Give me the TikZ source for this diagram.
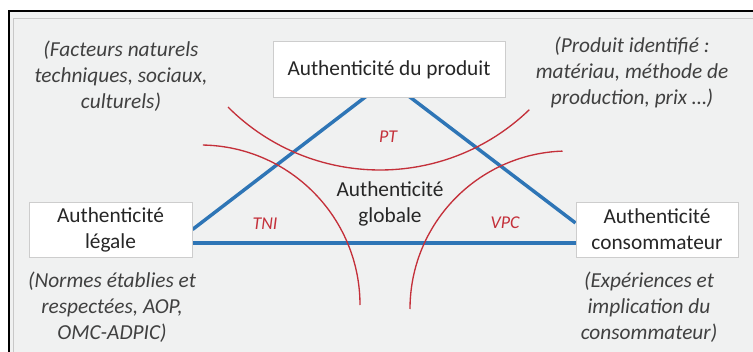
\documentclass[tikz,border=0pt]{standalone}
\usepackage{fontspec}
\setmainfont{Carlito}
\usetikzlibrary{backgrounds}

\definecolor{framegray}{RGB}{200,200,200}
\definecolor{panelgray}{RGB}{240,241,241}
\definecolor{boxgray}{RGB}{205,205,205}
\definecolor{sideblue}{RGB}{46,117,182}
\definecolor{arcred}{RGB}{196,48,58}
\definecolor{txtdark}{RGB}{38,38,38}
\definecolor{notegray}{RGB}{64,64,64}

\begin{document}
\begin{tikzpicture}[x=0.75pt, y=0.75pt]
\useasboundingbox (0,0) rectangle (753,351);
\clip (0,0) rectangle (753,351);

\coordinate (Apex) at (387.5, 271);
\coordinate (C_PT) at (380, 396);
\coordinate (C_TNI) at (200, 46);
\coordinate (C_VPC) at (568, 42);


\tikzset{BoxStyle/.style = {
 draw = boxgray,
 fill = white,
 line width = 0.75pt,
 text = txtdark,
 align = center,
 inner sep = 0pt,
 minimum height = 41.25pt,
 font = \fontsize{16}{19.5}\selectfont} }

\node[BoxStyle, minimum width=174pt] (Prod) at (389, 281.5) {Authenticité du produit};
\node[BoxStyle, minimum width=122.25pt] (Leg) at (110.5, 121.5) {Authenticité\\légale};
\node[BoxStyle, minimum width=121.5pt] (Cons) at (657, 121.5) {Authenticité\\consommateur};

\node[text=txtdark, align=center, font=\fontsize{16}{19.5}\selectfont] (Glob) at (390, 147) {Authenticité\\globale};


\tikzset{NoteStyle/.style = {
 text = notegray,
 align = center,
 font = \fontsize{16}{19.5}\selectfont\itshape} }

\node[NoteStyle] (N_Fact) at (121, 275) {(Facteurs naturels\\techniques, sociaux,\\culturels)};
\node[NoteStyle] (N_Prod) at (632, 279) {(Produit identifié :\\matériau, méthode de\\production, prix …)};
\node[NoteStyle] (N_Norm) at (112, 44) {(Normes établies et\\respectées, AOP,\\OMC-ADPIC)};
\node[NoteStyle] (N_Exp) at (649, 44) {(Expériences et\\implication du\\consommateur)};


\tikzset{LabelStyle/.style = {
 text = arcred,
 font = \fontsize{13.5}{16}\selectfont\itshape} }

\node[LabelStyle] (L_PT) at (388, 214) {PT};
\node[LabelStyle] (L_TNI) at (265, 127) {TNI};
\node[LabelStyle] (L_VPC) at (505, 128) {VPC};


\tikzset{SideStyle/.style = {draw = sideblue, line width = 2.6pt} }
\tikzset{ArcStyle/.style = {draw = arcred, line width = 1pt} }

\begin{pgfonlayer}{background}
\draw[black, line width=1.5pt, fill=panelgray] (9, 340) rectangle (770, -10);
\draw[framegray, line width=0.75pt] (13, 332) rectangle (770, -10);

\draw[SideStyle] (Leg.east) -- (Apex) -- ([yshift=4.9pt]Cons.west);
\draw[SideStyle] ([yshift=-10.1pt]Leg.east) -- ([yshift=-10.1pt]Cons.west);

\draw[ArcStyle] ([shift={(225:161.25pt)}]C_PT) arc[start angle=225, end angle=314, radius=161.25pt];
\draw[ArcStyle] ([shift={(89:120pt)}]C_TNI) arc[start angle=89, end angle=0, radius=120pt];
\draw[ArcStyle] ([shift={(92:118.5pt)}]C_VPC) arc[start angle=92, end angle=180, radius=118.5pt];
\end{pgfonlayer}

\end{tikzpicture}
\end{document}
